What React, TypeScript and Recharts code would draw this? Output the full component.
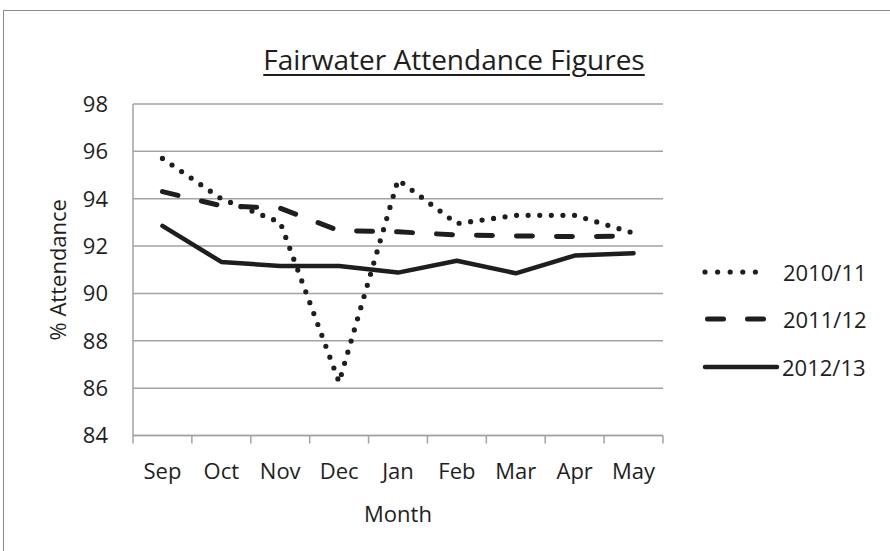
import React from 'react';
import { LineChart, Line, XAxis, YAxis, CartesianGrid, Label } from 'recharts';

const months = ['Sep', 'Oct', 'Nov', 'Dec', 'Jan', 'Feb', 'Mar', 'Apr', 'May'];
const att2010 = [95.7, 94.0, 93.0, 86.25, 94.8, 92.95, 93.3, 93.3, 92.55];
const att2011 = [94.3, 93.7, 93.6, 92.65, 92.6, 92.47, 92.43, 92.4, 92.42];
const att2012 = [92.85, 91.33, 91.16, 91.16, 90.88, 91.38, 90.85, 91.6, 91.7];
const yTicks = [84, 86, 88, 90, 92, 94, 96, 98];
const seriesNames = ['2010/11', '2011/12', '2012/13'];

const data = months.map((m, i) => ({
  x: i + 0.5,
  month: m,
  s0: att2010[i],
  s1: att2011[i],
  s2: att2012[i],
}));

const FONT = '"Open Sans", "Noto Sans", sans-serif';
const W = 890;
const H = 551;
const MARGIN = { top: 104, right: 227, bottom: 15.5, left: 0 };
const YW = 133;
const PLOT_W = W - MARGIN.left - MARGIN.right - YW;
const HALF_BAND = PLOT_W / months.length / 2;
const GRID = '#a3a3a3';
const INK = '#1e1e1e';

const styles = [
  { strokeWidth: 5.2, strokeDasharray: '0 11.6', strokeLinecap: 'round' as const },
  { strokeWidth: 5, strokeDasharray: '16 24', strokeLinecap: 'round' as const },
  { strokeWidth: 4.5, strokeDasharray: undefined, strokeLinecap: 'round' as const },
];

const XTick = (props: any) => {
  const { x, y, payload, index } = props;
  if (index >= months.length) return null;
  return (
    <text x={x + HALF_BAND} y={y} dy="0.72em" textAnchor="middle" fill={INK} fontSize={22} fontFamily={FONT}>
      {months[payload.value] ?? months[index]}
    </text>
  );
};

const boundaryTicks = months.map((_, i) => i).concat([months.length]);

export default function App() {
  return (
    <div style={{ position: 'fixed', left: 0, top: 0, width: W, height: H, overflow: 'hidden', background: '#fff' }}>
      <div
        style={{
          position: 'absolute',
          left: 3,
          top: 10,
          width: 920,
          height: 600,
          border: '1.5px solid #8c8c8c',
        }}
      />
      <div
        style={{
          position: 'absolute',
          left: 0,
          top: 41,
          width: 908,
          textAlign: 'center',
          fontFamily: FONT,
          fontSize: 28,
          color: INK,
          textDecoration: 'underline',
          textUnderlineOffset: 4,
          textDecorationThickness: 1.5,
          lineHeight: '36px',
        }}
      >
        Fairwater Attendance Figures
      </div>
      <div style={{ position: 'absolute', left: 0, top: 0 }}>
        <LineChart width={W} height={H} data={data} margin={MARGIN}>
          <CartesianGrid horizontal vertical={false} stroke={GRID} strokeWidth={1.5} />
          <XAxis
            dataKey="x"
            type="number"
            domain={[0, months.length]}
            ticks={boundaryTicks}
            interval={0}
            height={100}
            tickSize={8}
            tickMargin={20}
            stroke={GRID}
            strokeWidth={1.5}
            tick={<XTick />}
          >
            <Label
              value="Month"
              position="insideBottom"
              offset={14}
              fill={INK}
              fontSize={22}
              fontFamily={FONT}
            />
          </XAxis>
          <YAxis
            type="number"
            domain={[84, 98]}
            ticks={yTicks}
            interval={0}
            width={YW}
            tickLine={false}
            tickSize={0}
            tickMargin={25}
            stroke={GRID}
            strokeWidth={1.5}
            tick={{ fill: INK, fontSize: 22, fontFamily: FONT }}
          >
            <Label
              content={(p: any) => {
                const vb = p.viewBox;
                const cx = vb.x + 57;
                const cy = vb.y + vb.height / 2;
                return (
                  <text
                    x={cx}
                    y={cy}
                    transform={`rotate(-90 ${cx} ${cy})`}
                    textAnchor="middle"
                    dominantBaseline="central"
                    fill={INK}
                    fontSize={22}
                    fontFamily={FONT}
                  >
                    % Attendance
                  </text>
                );
              }}
            />
          </YAxis>
          {['s0', 's1', 's2'].map((k, i) => (
            <Line
              key={k}
              dataKey={k}
              name={seriesNames[i]}
              type="linear"
              stroke={INK}
              strokeWidth={styles[i].strokeWidth}
              strokeDasharray={styles[i].strokeDasharray}
              strokeLinecap={styles[i].strokeLinecap}
              strokeLinejoin="round"
              dot={false}
              activeDot={false}
              isAnimationActive={false}
            />
          ))}
        </LineChart>
      </div>
      <div style={{ position: 'absolute', left: 700, top: 248, fontFamily: FONT, fontSize: 22, color: INK }}>
        {seriesNames.map((n, i) => (
          <div key={n} style={{ display: 'flex', alignItems: 'center', height: 47.5 }}>
            <svg width={80} height={20} style={{ display: 'block' }}>
              <line
                x1={i === 1 ? 7.5 : 5}
                y1={10}
                x2={i === 2 ? 77 : 68}
                y2={10}
                stroke={INK}
                strokeWidth={styles[i].strokeWidth}
                strokeDasharray={i === 0 ? '0 12.6' : styles[i].strokeDasharray}
                strokeLinecap="round"
              />
            </svg>
            <span style={{ marginLeft: i === 2 ? 2 : 3 }}>{n}</span>
          </div>
        ))}
      </div>
    </div>
  );
}
